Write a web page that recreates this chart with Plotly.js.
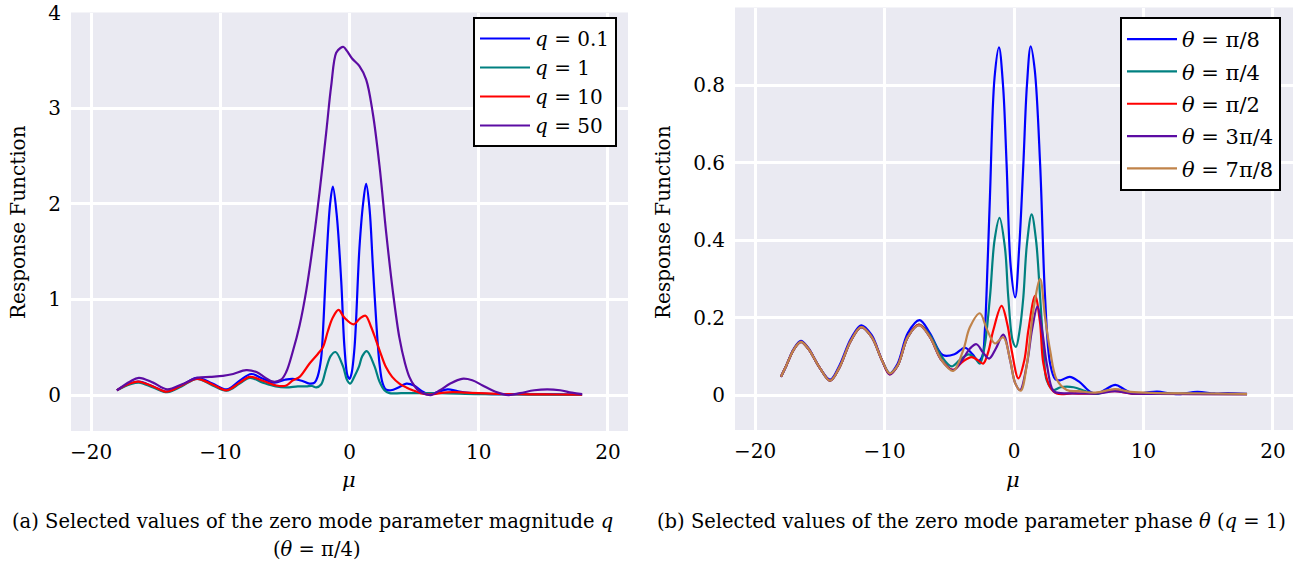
<!DOCTYPE html>
<html>
<head>
<meta charset="utf-8">
<script src="https://cdn.plot.ly/plotly-3.0.1.min.js"></script>
<style>html,body{margin:0;padding:0;background:#fff;}#chart{width:1316px;height:567px;}</style>
</head>
<body>
<div id="chart"></div>
<script>
// ---------- Panel (a): theta = pi/4, varying q ----------
const muA_q01 = [-18,-17,-16.3,-15.2,-14.1,-13,-11.8,-10.6,-9.5,-8.5,-7.6,-6.7,-5.8,-5.0,-4.4,-3.7,-3.1,-2.7,-2.45,-2.2,-2.0,-1.8,-1.5,-1.29,-1.0,-0.64,-0.39,-0.15,0,0.15,0.39,0.77,1.05,1.29,1.55,1.8,2.1,2.32,2.55,2.8,3.2,3.8,4.4,5.0,5.6,6.2,6.8,7.6,8.4,9.5,11,13,15,18];
const respA_q01 = [0.05,0.12,0.14,0.09,0.035,0.10,0.18,0.12,0.06,0.15,0.22,0.17,0.13,0.16,0.17,0.15,0.12,0.13,0.2,0.38,0.8,1.37,2.0,2.18,1.9,1.19,0.5,0.2,0.17,0.22,0.5,1.54,2.0,2.21,1.95,1.37,0.7,0.33,0.13,0.06,0.05,0.08,0.12,0.10,0.04,0.005,0.03,0.06,0.04,0.02,0.01,0.01,0.01,0.005];

const muA_q1 = [-18,-17,-16.3,-15.2,-14.1,-13,-11.8,-10.6,-9.5,-8.5,-7.7,-6.7,-5.7,-4.9,-4.0,-3.35,-2.9,-2.57,-2.2,-1.8,-1.45,-1.08,-0.5,-0.2,0.05,0.4,0.74,1.0,1.34,1.94,2.32,2.7,3.09,4,5,7,10,14,18];
const respA_q1 = [0.05,0.11,0.13,0.08,0.03,0.09,0.17,0.10,0.045,0.12,0.18,0.13,0.09,0.08,0.09,0.09,0.095,0.08,0.11,0.28,0.41,0.45,0.30,0.16,0.12,0.2,0.30,0.41,0.46,0.30,0.14,0.05,0.02,0.02,0.02,0.02,0.01,0.005,0.003];

const muA_q10 = [-18,-17,-16.35,-15.2,-14.15,-13,-11.8,-10.6,-9.5,-8.5,-7.7,-6.7,-5.66,-4.89,-4.38,-3.86,-3.09,-2.45,-2.06,-1.67,-1.29,-0.85,-0.4,0.33,0.8,1.24,1.65,2.06,2.45,2.83,3.3,3.86,4.4,4.89,5.5,6.18,7,8,9,10,12,14,16,18];
const respA_q10 = [0.05,0.12,0.14,0.09,0.035,0.10,0.17,0.11,0.05,0.13,0.19,0.15,0.10,0.10,0.155,0.19,0.33,0.43,0.5,0.67,0.81,0.89,0.81,0.74,0.80,0.83,0.72,0.57,0.42,0.29,0.19,0.12,0.08,0.05,0.02,0.005,0.02,0.03,0.025,0.02,0.01,0.008,0.006,0.005];

const muA_q50 = [-18,-17,-16.3,-15.2,-14.1,-13,-11.8,-10.8,-9.8,-9,-8,-7.2,-6.5,-5.9,-5.3,-4.9,-4.4,-3.86,-3.35,-2.83,-2.32,-1.8,-1.42,-1.03,-0.7,-0.46,-0.2,0.2,0.77,1.29,1.8,2.32,2.83,3.35,3.86,4.3,4.63,5.0,5.4,6.0,6.3,7.0,7.8,8.7,9.5,10.3,11.3,12.3,13.2,14.3,15.3,16.3,17.2,18];
const respA_q50 = [0.05,0.14,0.18,0.13,0.06,0.11,0.18,0.19,0.20,0.22,0.26,0.24,0.18,0.14,0.16,0.24,0.45,0.73,1.09,1.57,2.12,2.75,3.23,3.58,3.63,3.64,3.60,3.52,3.44,3.30,2.95,2.40,1.71,1.09,0.60,0.33,0.19,0.10,0.04,0.005,0.0,0.05,0.12,0.17,0.155,0.10,0.035,0.0,0.02,0.05,0.06,0.05,0.025,0.01];

// ---------- Panel (b): q = 1, varying theta ----------
const muB_pi8 = [-18,-17.6,-17,-16.46,-15.9,-15,-14.2,-13.5,-12.6,-11.8,-11,-10.2,-9.6,-9,-8.2,-7.3,-6.5,-5.5,-4.6,-3.8,-3.2,-2.75,-2.45,-2.25,-2.05,-1.86,-1.5,-1.16,-0.85,-0.57,-0.25,0.09,0.4,0.72,1.0,1.29,1.6,2.02,2.4,2.79,3.2,3.6,4.3,5.0,5.9,6.4,7.1,7.83,8.5,9.2,10.2,11.06,12.5,14.16,15.5,16.5,18];
const respB_pi8 = [0.047,0.075,0.12,0.14,0.122,0.07,0.04,0.075,0.145,0.18,0.155,0.09,0.056,0.08,0.16,0.193,0.16,0.103,0.105,0.122,0.105,0.088,0.1,0.167,0.33,0.51,0.82,0.897,0.8,0.594,0.33,0.252,0.38,0.594,0.8,0.90,0.84,0.594,0.252,0.081,0.04,0.038,0.047,0.035,0.008,0.003,0.015,0.026,0.015,0.003,0.006,0.009,0.002,0.008,0.004,0.005,0.003];

const muB_pi4 = [-18,-17.6,-17,-16.46,-15.9,-15,-14.2,-13.5,-12.6,-11.8,-11,-10.2,-9.6,-9,-8.2,-7.34,-6.5,-5.6,-4.83,-4.2,-3.5,-3.0,-2.64,-2.3,-1.86,-1.5,-1.12,-0.7,-0.44,-0.1,0.15,0.45,0.72,1.0,1.36,1.7,2.02,2.3,2.53,3.05,3.6,4.6,5.5,6.3,7.2,7.9,9,11,14,18];
const respB_pi4 = [0.047,0.075,0.118,0.137,0.12,0.07,0.037,0.07,0.14,0.175,0.15,0.09,0.056,0.075,0.15,0.182,0.155,0.1,0.074,0.09,0.105,0.095,0.081,0.12,0.252,0.4,0.457,0.38,0.252,0.14,0.124,0.17,0.252,0.39,0.466,0.4,0.252,0.11,0.038,0.013,0.02,0.02,0.01,0.003,0.01,0.013,0.005,0.004,0.003,0.002];

const muB_pi2 = [-18,-17.6,-17,-16.46,-15.9,-15,-14.2,-13.5,-12.6,-11.8,-11,-10.2,-9.6,-9,-8.2,-7.34,-6.5,-5.6,-4.7,-4.0,-3.28,-2.8,-2.38,-2.0,-1.6,-0.96,-0.5,-0.18,0.34,0.8,1.11,1.63,2.0,2.27,2.79,3.3,4.5,6,7.8,9,12,18];
const respB_pi2 = [0.047,0.075,0.118,0.137,0.12,0.07,0.037,0.07,0.14,0.175,0.15,0.09,0.053,0.075,0.15,0.182,0.15,0.09,0.065,0.085,0.098,0.09,0.081,0.11,0.167,0.23,0.18,0.115,0.043,0.09,0.167,0.256,0.19,0.081,0.02,0.004,0.004,0.004,0.01,0.004,0.003,0.002];

const muB_3pi4 = [-18,-17.6,-17,-16.46,-15.9,-15,-14.2,-13.5,-12.6,-11.8,-11,-10.2,-9.6,-9,-8.2,-7.34,-6.5,-5.6,-4.7,-4.0,-3.4,-2.9,-2.4,-1.92,-1.4,-0.83,-0.3,0.1,0.47,1.0,1.4,1.81,2.2,2.53,3.05,3.6,4.5,5.5,6.5,7.8,9,11,14,18];
const respB_3pi4 = [0.047,0.075,0.118,0.137,0.12,0.07,0.037,0.07,0.14,0.175,0.15,0.09,0.053,0.075,0.15,0.18,0.15,0.09,0.064,0.09,0.12,0.131,0.11,0.094,0.12,0.156,0.09,0.03,0.013,0.08,0.17,0.228,0.16,0.081,0.01,0.005,0.004,0.004,0.004,0.01,0.004,0.003,0.002,0.002];

const muB_7pi8 = [-18,-17.6,-17,-16.46,-15.9,-15,-14.2,-13.5,-12.6,-11.8,-11,-10.2,-9.6,-9,-8.2,-7.34,-6.5,-5.6,-4.7,-3.93,-3.41,-2.64,-2.1,-1.47,-0.83,-0.3,0.1,0.52,1.0,1.5,2.02,2.4,2.79,3.3,4.08,5,6.3,7.8,9,11,14,18];
const respB_7pi8 = [0.047,0.075,0.118,0.137,0.12,0.07,0.037,0.07,0.14,0.175,0.15,0.09,0.056,0.075,0.15,0.18,0.15,0.09,0.062,0.115,0.175,0.211,0.17,0.133,0.149,0.09,0.03,0.011,0.08,0.22,0.299,0.2,0.115,0.04,0.013,0.01,0.006,0.015,0.008,0.005,0.004,0.003];

const labelsA = ['<i>q</i> = 0.1', '<i>q</i> = 1', '<i>q</i> = 10', '<i>q</i> = 50'];
const labelsB = ['<i>θ</i> = π/8', '<i>θ</i> = π/4', '<i>θ</i> = π/2', '<i>θ</i> = 3π/4', '<i>θ</i> = 7π/8'];
const colorsA = ['#0000ff', '#008080', '#ff0000', '#5c0ca3'];
const colorsB = ['#0000ff', '#008080', '#ff0000', '#5c0ca3', '#c0834a'];

const seriesA = [[muA_q01, respA_q01], [muA_q1, respA_q1], [muA_q10, respA_q10], [muA_q50, respA_q50]];
const seriesB = [[muB_pi8, respB_pi8], [muB_pi4, respB_pi4], [muB_pi2, respB_pi2], [muB_3pi4, respB_3pi4], [muB_7pi8, respB_7pi8]];

const traces = [];
seriesA.forEach((s, i) => traces.push({
  x: s[0], y: s[1], type: 'scatter', mode: 'lines', name: labelsA[i],
  line: {color: colorsA[i], width: 2.2, shape: 'spline', smoothing: 1},
  xaxis: 'x', yaxis: 'y', legend: 'legend', legendgroup: 'a' + i
}));
seriesB.forEach((s, i) => traces.push({
  x: s[0], y: s[1], type: 'scatter', mode: 'lines', name: labelsB[i],
  line: {color: colorsB[i], width: 2.2, shape: 'spline', smoothing: 1},
  xaxis: 'x2', yaxis: 'y2', legend: 'legend2', legendgroup: 'b' + i
}));

const W = 1316, H = 567;
const FONT = 'DejaVu Serif';
const axisCommon = {
  showgrid: true, gridcolor: '#ffffff', gridwidth: 3, zeroline: false,
  showline: false, ticks: '', tickfont: {family: FONT, size: 20, color: '#000'},
  ticklabeloverflow: 'allow'
};

const layout = {
  width: W, height: H,
  margin: {l: 0, r: 0, t: 0, b: 0},
  paper_bgcolor: '#ffffff', plot_bgcolor: '#eaeaf2',
  font: {family: FONT, size: 20, color: '#000'},
  showlegend: true,
  xaxis: Object.assign({}, axisCommon, {domain: [71/W, 628/W], range: [-21.55, 21.55], tickvals: [-20, -10, 0, 10, 20], anchor: 'y', ticklabelstandoff: 7}),
  yaxis: Object.assign({}, axisCommon, {domain: [1 - 431/H, 1 - 12.5/H], range: [-0.376, 4.001], tickvals: [0, 1, 2, 3, 4], anchor: 'x', ticklabelstandoff: 9}),
  xaxis2: Object.assign({}, axisCommon, {domain: [735/W, 1293/W], range: [-21.55, 21.55], tickvals: [-20, -10, 0, 10, 20], anchor: 'y2', ticklabelstandoff: 7}),
  yaxis2: Object.assign({}, axisCommon, {domain: [1 - 430/H, 1 - 7.5/H], range: [-0.0903, 1.0], tickvals: [0, 0.2, 0.4, 0.6, 0.8], anchor: 'x2', ticklabelstandoff: 9}),
  legend: {x: 617/W, y: 1 - 17/H, xanchor: 'right', yanchor: 'top', bgcolor: '#ffffff', bordercolor: '#000', borderwidth: 2, font: {family: FONT, size: 20}, tracegroupgap: 0, itemwidth: 50},
  legend2: {x: 1281/W, y: 1 - 17/H, xanchor: 'right', yanchor: 'top', bgcolor: '#ffffff', bordercolor: '#000', borderwidth: 2, font: {family: FONT, size: 21}, tracegroupgap: 2, itemwidth: 50},
  annotations: [
    {text: 'Response Function', xref: 'paper', yref: 'paper', x: 18/W, y: 1 - 222/H, textangle: -90, showarrow: false, font: {family: FONT, size: 20}, xanchor: 'center', yanchor: 'middle'},
    {text: 'Response Function', xref: 'paper', yref: 'paper', x: 663/W, y: 1 - 222/H, textangle: -90, showarrow: false, font: {family: FONT, size: 20}, xanchor: 'center', yanchor: 'middle'},
    {text: '<i>μ</i>', xref: 'paper', yref: 'paper', x: 349/W, y: 1 - 480/H, showarrow: false, font: {family: FONT, size: 21}, xanchor: 'center', yanchor: 'middle'},
    {text: '<i>μ</i>', xref: 'paper', yref: 'paper', x: 1013/W, y: 1 - 480/H, showarrow: false, font: {family: FONT, size: 21}, xanchor: 'center', yanchor: 'middle'},
    {text: '(a) Selected values of the zero mode parameter magnitude <i>q</i>', xref: 'paper', yref: 'paper', x: 312/W, y: 1 - 521/H, showarrow: false, font: {family: FONT, size: 19.5}, xanchor: 'center', yanchor: 'middle'},
    {text: '(<i>θ</i> = π/4)', xref: 'paper', yref: 'paper', x: 317/W, y: 1 - 549/H, showarrow: false, font: {family: FONT, size: 19.5}, xanchor: 'center', yanchor: 'middle'},
    {text: '(b) Selected values of the zero mode parameter phase <i>θ</i> (<i>q</i> = 1)', xref: 'paper', yref: 'paper', x: 971/W, y: 1 - 521/H, showarrow: false, font: {family: FONT, size: 19.5}, xanchor: 'center', yanchor: 'middle'}
  ]
};

Plotly.newPlot('chart', traces, layout, {displayModeBar: false, staticPlot: true});
</script>
</body>
</html>
